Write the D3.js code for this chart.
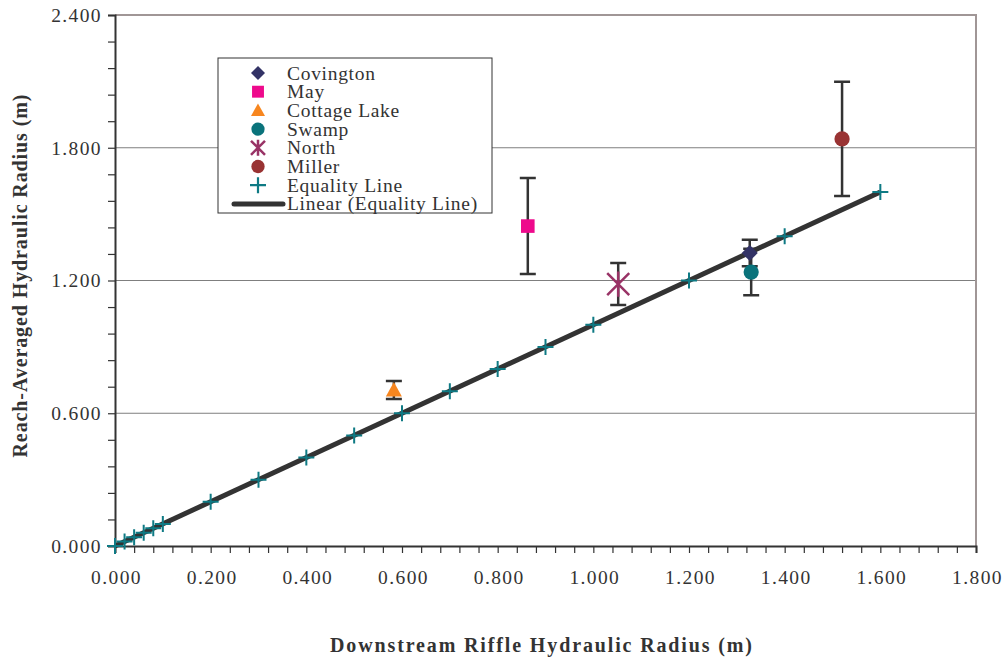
<!DOCTYPE html>
<html><head><meta charset="utf-8">
<script src="https://cdn.jsdelivr.net/npm/d3@7"></script>
<style>body{margin:0;background:#fff}</style>
</head><body>
<svg id="chart" width="1005" height="662"></svg>
<script>
// ---- data ----
const seriesNames = ["Covington","May","Cottage Lake","Swamp","North","Miller"];
const seriesX =     [1.327, 0.863, 0.583, 1.330, 1.052, 1.520];
const seriesY =     [1.324, 1.446, 0.705, 1.238, 1.184, 1.840];
const seriesErr =   [0.060, 0.217, 0.041, 0.105, 0.095, 0.258];
const seriesColors = ["#333366","#ee0a8c","#f7861f","#0a737b","#993366","#993333"];
const seriesShapes = ["diamond","square","triangle","circle","star","circle"];
const equalityX = [0,0.02,0.04,0.06,0.08,0.1,0.2,0.3,0.4,0.5,0.6,0.7,0.8,0.9,1.0,1.2,1.4,1.6];
const equalityY = equalityX.slice();
const xTicks = [0,0.2,0.4,0.6,0.8,1.0,1.2,1.4,1.6,1.8];
const yTicks = [0,0.6,1.2,1.8,2.4];
const xLabel = "Downstream Riffle Hydraulic Radius (m)";
const yLabel = "Reach-Averaged Hydraulic Radius (m)";

const svg = d3.select("#chart");
const L=115, R=976, T=15, B=546;
const x = d3.scaleLinear().domain([0,1.8]).range([L,R]);
const y = d3.scaleLinear().domain([0,2.4]).range([B,T]);
const font = "'Liberation Serif','Times New Roman',serif";

// gridlines
svg.append("g").selectAll("line").data(yTicks.filter(d=>d>0 && d<2.4)).join("line")
  .attr("x1",L).attr("x2",R).attr("y1",d=>y(d)).attr("y2",d=>y(d))
  .attr("stroke","#7f7f7f").attr("stroke-width",1);
// top/right frame
svg.append("path").attr("d",`M${L},${T}H${R}V${B}`).attr("fill","none")
  .attr("stroke","#a09696").attr("stroke-width",2);

// axes
const xAxis = d3.axisBottom(x).tickValues(d3.range(0,1.8001,0.04)).tickSize(7)
  .tickFormat(d=>{const m=xTicks.find(t=>Math.abs(t-d)<1e-6);return m!==undefined?d3.format(".3f")(m):"";});
const gx = svg.append("g").attr("transform",`translate(0,${B})`).call(xAxis);
gx.selectAll("text").attr("y",38).attr("dy",0).attr("dx",1);
const yAxis = d3.axisLeft(y).tickValues(d3.range(0,2.4001,0.12)).tickSize(7)
  .tickFormat(d=>{const m=yTicks.find(t=>Math.abs(t-d)<1e-6);return m!==undefined?d3.format(".3f")(m):"";});
const gy = svg.append("g").attr("transform",`translate(${L},0)`).call(yAxis);
gy.selectAll("text").attr("x",-13).attr("dy","0.33em");
[gx,gy].forEach(g=>{
  g.attr("font-family",font).attr("font-size",19.5);
  g.select(".domain").attr("stroke","#333").attr("stroke-width",2);
  g.selectAll(".tick line").attr("stroke","#333").attr("stroke-width",1.2);
  g.selectAll("text").attr("font-family",font).attr("font-size",19.5).attr("fill","#333")
    .attr("letter-spacing","1.4px");
});

// axis titles
svg.append("text").attr("x",541).attr("y",652).attr("text-anchor","middle")
  .attr("font-family",font).attr("font-weight","bold").attr("font-size",20).attr("fill","#333")
  .attr("textLength",422).attr("lengthAdjust","spacing").text(xLabel);
svg.append("text").attr("transform",`translate(27,276) rotate(-90)`).attr("text-anchor","middle")
  .attr("font-family",font).attr("font-weight","bold").attr("font-size",20).attr("fill","#333")
  .attr("textLength",363).attr("lengthAdjust","spacing").text(yLabel);

// linear trend line
svg.append("line").attr("x1",x(0)).attr("y1",y(0)).attr("x2",x(1.6)).attr("y2",y(1.6))
  .attr("stroke","#333").attr("stroke-width",5);

// equality markers
const plus = (g,cx,cy,s,col,w)=>{
  g.append("path").attr("d",`M${cx-s},${cy}H${cx+s}M${cx},${cy-s}V${cy+s}`)
   .attr("stroke",col).attr("stroke-width",w).attr("fill","none");
};
const eqG = svg.append("g");
equalityX.forEach((d,i)=>plus(eqG,x(d),y(equalityY[i]),8,"#0e7a84",2));

// symbols
function drawShape(g,shape,cx,cy,col,sz){
  if(shape==="diamond") g.append("path").attr("d",`M${cx},${cy-sz}L${cx+sz},${cy}L${cx},${cy+sz}L${cx-sz},${cy}Z`).attr("fill",col);
  else if(shape==="square") g.append("rect").attr("x",cx-sz*0.85).attr("y",cy-sz*0.85).attr("width",sz*1.7).attr("height",sz*1.7).attr("fill",col);
  else if(shape==="triangle") g.append("path").attr("d",`M${cx},${cy-sz}L${cx+sz},${cy+sz*0.8}L${cx-sz},${cy+sz*0.8}Z`).attr("fill",col);
  else if(shape==="circle") g.append("circle").attr("cx",cx).attr("cy",cy).attr("r",sz*0.95).attr("fill",col);
  else if(shape==="star"){
    g.append("path").attr("d",`M${cx-sz},${cy-sz}L${cx+sz},${cy+sz}M${cx-sz},${cy+sz}L${cx+sz},${cy-sz}M${cx},${cy-sz*1.15}V${cy+sz*1.15}`)
     .attr("stroke",col).attr("stroke-width",2.5).attr("fill","none");
  }
}

// error bars + points
const ptG = svg.append("g");
const order=[3,0,1,2,4,5];
order.forEach(i=>{
  const cx=x(seriesX[i]);
  const y1=y(seriesY[i]+seriesErr[i]), y2=y(seriesY[i]-seriesErr[i]);
  ptG.append("path").attr("d",`M${cx},${y1}V${y2}M${cx-8},${y1}H${cx+8}M${cx-8},${y2}H${cx+8}`)
    .attr("stroke","#333").attr("stroke-width",2.5).attr("fill","none");
});
order.forEach(i=>{
  drawShape(ptG,seriesShapes[i],x(seriesX[i]),y(seriesY[i]),seriesColors[i],i===4?11:8);
});

// legend
const lg = svg.append("g");
lg.append("rect").attr("x",218).attr("y",58).attr("width",274).attr("height",155)
  .attr("fill","#fff").attr("stroke","#333").attr("stroke-width",1);
const rowY = i=>73+i*18.7;
const legendText = (t,i)=>lg.append("text").attr("x",287).attr("y",rowY(i)+6.5).attr("font-family",font)
  .attr("font-size",19.5).attr("letter-spacing","0.7px").attr("fill","#333").text(t);
seriesNames.forEach((n,i)=>{
  drawShape(lg,seriesShapes[i],258,rowY(i),seriesColors[i],7);
  legendText(n,i);
});
plus(lg,258,rowY(6),8,"#0e7a84",2.2);
legendText("Equality Line",6);
lg.append("line").attr("x1",234).attr("x2",283).attr("y1",rowY(7)).attr("y2",rowY(7)).attr("stroke","#333").attr("stroke-width",5).attr("stroke-linecap","round");
legendText("Linear (Equality Line)",7);
</script>
</body></html>
